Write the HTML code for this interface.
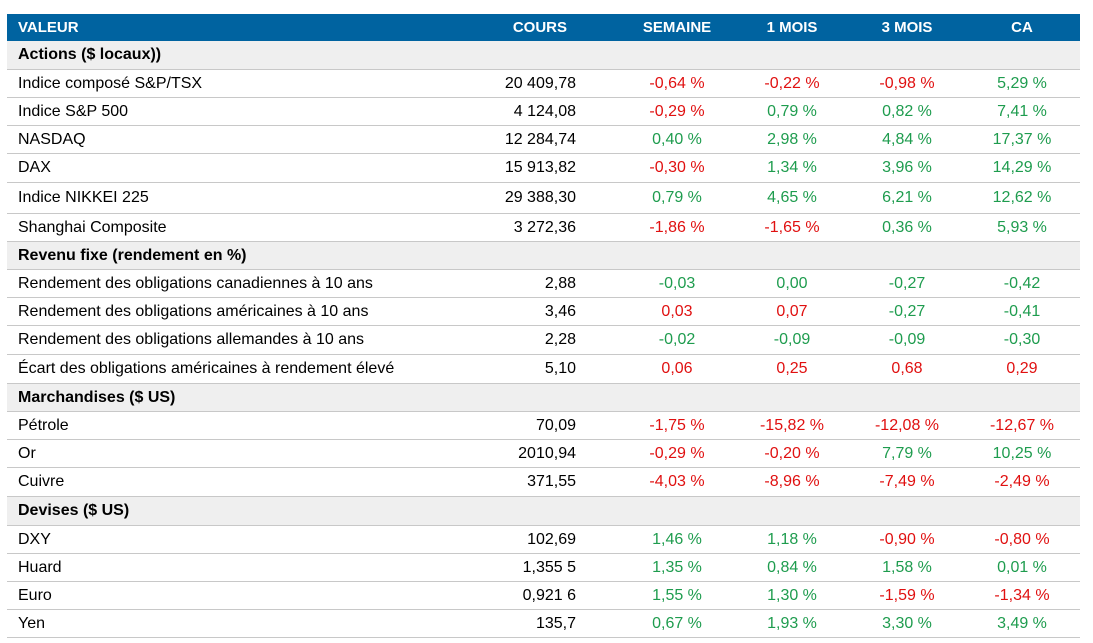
<!DOCTYPE html>
<html><head><meta charset="utf-8"><style>
body{margin:0;background:#fff;font-family:"Liberation Sans",Arial,sans-serif;}
table{position:absolute;left:7px;top:14px;width:1073px;border-collapse:collapse;font-size:16px;color:#000;table-layout:fixed;}
td,th{padding:0;white-space:nowrap;overflow:visible;}
td{padding-top:1px;}
th{background:#0063a0;color:#fff;font-weight:bold;font-size:15px;height:27px;}
tr.d td{border-bottom:1px solid #c8c8c8;}
tr.s td{background:#efefef;font-weight:bold;border-bottom:1px solid #c8c8c8;}
.l{text-align:left;padding-left:11px;}
.r{text-align:right;padding-right:4px;}
.c{text-align:center;}
.g{color:#1e9c4e}.n{color:#e01010}
td:nth-child(3),th:nth-child(3){padding-left:54px;}
td:nth-child(4),th:nth-child(4){padding-left:4px;}
td:nth-child(5),th:nth-child(5){padding-left:4px;}
td:nth-child(6),th:nth-child(6){padding-left:14px;}
</style></head><body>
<table>
<colgroup><col style="width:473px"><col style="width:100px"><col style="width:140px"><col style="width:140px"><col style="width:90px"><col style="width:130px"></colgroup>
<tr><th class="l">VALEUR</th><th class="r" style="padding-right:13px">COURS</th><th class="c">SEMAINE</th><th class="c">1 MOIS</th><th class="c">3 MOIS</th><th class="c">CA</th></tr>
<tr class="s" style="height:28px"><td class="l" colspan="6">Actions ($ locaux))</td></tr>
<tr class="d" style="height:28px"><td class="l">Indice composé S&amp;P/TSX</td><td class="r">20 409,78</td><td class="c n">-0,64 %</td><td class="c n">-0,22 %</td><td class="c n">-0,98 %</td><td class="c g">5,29 %</td></tr>
<tr class="d" style="height:28px"><td class="l">Indice S&amp;P 500</td><td class="r">4 124,08</td><td class="c n">-0,29 %</td><td class="c g">0,79 %</td><td class="c g">0,82 %</td><td class="c g">7,41 %</td></tr>
<tr class="d" style="height:28px"><td class="l">NASDAQ</td><td class="r">12 284,74</td><td class="c g">0,40 %</td><td class="c g">2,98 %</td><td class="c g">4,84 %</td><td class="c g">17,37 %</td></tr>
<tr class="d" style="height:29px"><td class="l">DAX</td><td class="r">15 913,82</td><td class="c n">-0,30 %</td><td class="c g">1,34 %</td><td class="c g">3,96 %</td><td class="c g">14,29 %</td></tr>
<tr class="d" style="height:31px"><td class="l">Indice NIKKEI 225</td><td class="r">29 388,30</td><td class="c g">0,79 %</td><td class="c g">4,65 %</td><td class="c g">6,21 %</td><td class="c g">12,62 %</td></tr>
<tr class="d" style="height:28px"><td class="l">Shanghai Composite</td><td class="r">3 272,36</td><td class="c n">-1,86 %</td><td class="c n">-1,65 %</td><td class="c g">0,36 %</td><td class="c g">5,93 %</td></tr>
<tr class="s" style="height:28px"><td class="l" colspan="6">Revenu fixe (rendement en %)</td></tr>
<tr class="d" style="height:28px"><td class="l">Rendement des obligations canadiennes à 10 ans</td><td class="r">2,88</td><td class="c g">-0,03</td><td class="c g">0,00</td><td class="c g">-0,27</td><td class="c g">-0,42</td></tr>
<tr class="d" style="height:28px"><td class="l">Rendement des obligations américaines à 10 ans</td><td class="r">3,46</td><td class="c n">0,03</td><td class="c n">0,07</td><td class="c g">-0,27</td><td class="c g">-0,41</td></tr>
<tr class="d" style="height:29px"><td class="l">Rendement des obligations allemandes à 10 ans</td><td class="r">2,28</td><td class="c g">-0,02</td><td class="c g">-0,09</td><td class="c g">-0,09</td><td class="c g">-0,30</td></tr>
<tr class="d" style="height:29px"><td class="l">Écart des obligations américaines à rendement élevé</td><td class="r">5,10</td><td class="c n">0,06</td><td class="c n">0,25</td><td class="c n">0,68</td><td class="c n">0,29</td></tr>
<tr class="s" style="height:28px"><td class="l" colspan="6">Marchandises ($ US)</td></tr>
<tr class="d" style="height:28px"><td class="l">Pétrole</td><td class="r">70,09</td><td class="c n">-1,75 %</td><td class="c n">-15,82 %</td><td class="c n">-12,08 %</td><td class="c n">-12,67 %</td></tr>
<tr class="d" style="height:28px"><td class="l">Or</td><td class="r">2010,94</td><td class="c n">-0,29 %</td><td class="c n">-0,20 %</td><td class="c g">7,79 %</td><td class="c g">10,25 %</td></tr>
<tr class="d" style="height:29px"><td class="l">Cuivre</td><td class="r">371,55</td><td class="c n">-4,03 %</td><td class="c n">-8,96 %</td><td class="c n">-7,49 %</td><td class="c n">-2,49 %</td></tr>
<tr class="s" style="height:29px"><td class="l" colspan="6">Devises ($ US)</td></tr>
<tr class="d" style="height:28px"><td class="l">DXY</td><td class="r">102,69</td><td class="c g">1,46 %</td><td class="c g">1,18 %</td><td class="c n">-0,90 %</td><td class="c n">-0,80 %</td></tr>
<tr class="d" style="height:28px"><td class="l">Huard</td><td class="r">1,355 5</td><td class="c g">1,35 %</td><td class="c g">0,84 %</td><td class="c g">1,58 %</td><td class="c g">0,01 %</td></tr>
<tr class="d" style="height:28px"><td class="l">Euro</td><td class="r">0,921 6</td><td class="c g">1,55 %</td><td class="c g">1,30 %</td><td class="c n">-1,59 %</td><td class="c n">-1,34 %</td></tr>
<tr class="d" style="height:28px"><td class="l">Yen</td><td class="r">135,7</td><td class="c g">0,67 %</td><td class="c g">1,93 %</td><td class="c g">3,30 %</td><td class="c g">3,49 %</td></tr>
</table>
</body></html>
